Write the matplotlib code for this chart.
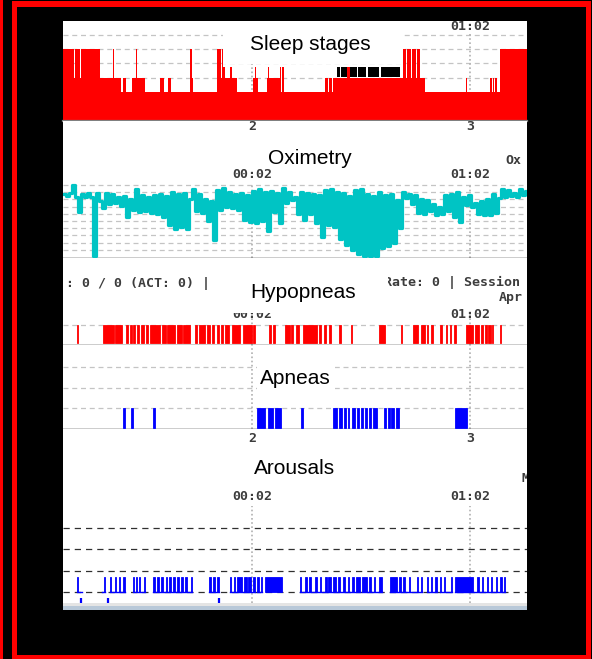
import matplotlib
matplotlib.use("Agg")
import matplotlib.pyplot as plt
from matplotlib import transforms
from matplotlib.patches import Rectangle

# all times in minutes after midnight (00:02 -> 2, 01:02 -> 62)
stage_times = [-50.0, -47.0, -46.7, -45.3, -45.06, -39.8, -36.25, -35.98, -35.7, -34.1,
               -33.6, -32.6, -31.0, -29.9, -29.65, -27.45, -23.3, -22.2, -21.1, -20.3,
               -15.0, -14.5, -14.2, -7.6, -7.2, -6.95, -6.5, -6.25, -6.0, -5.4,
               -4.05, -3.6, -2.1, 2.3, 2.8, 3.2, 3.65, 6.1, 6.4, 6.7,
               9.7, 10.0, 10.4, 10.8, 22.1, 22.9, 23.2, 24.0, 24.3, 28.15,
               28.95, 43.6, 44.4, 44.65, 45.75, 46.0, 47.1, 47.4, 48.2, 49.6,
               60.9, 61.3, 67.5, 68.05, 68.3, 68.6, 68.9, 69.4, 70.25, 77.7]
stage_levels = [3, 1, 3, 1, 3, 1, 3, 1, 1, 0,
                1, 0, 1, 3, 1, 0, 1, 0, 1, 0,
                3, 1, 0, 3, 1, 3, 1, 3, 1.75, 1,
                1.75, 1, 0, 1, 1.75, 1, 0, 1, 1.75, 1,
                1.75, 0, 1.75, 0, 1, 0, 1, 0, 1, 1.75,
                1, 3, 1, 3, 1, 3, 1, 3, 1, 0,
                1, 0, 1, 0, 1, 0, 1, 0, 3, 3]
rem_spans = [(25.4, 26.1), (26.5, 28.15), (28.95, 30.8), (31.2, 33.5), (33.9, 37.1), (37.5, 42.7)]

ox_start = -49.7
ox_step = 0.826
spo2 = [95.8, 95.5, 95.9, 97.0, 95.4, 93.3, 95.7, 95.4, 95.9, 95.3,
        87.1, 95.9, 94.8, 93.8, 95.9, 94.3, 95.8, 94.5, 95.3, 94.1,
        95.5, 92.6, 95.1, 93.5, 96.5, 93.2, 95.6, 93.4, 95.3, 93.1,
        95.6, 93.0, 95.8, 92.6, 95.5, 91.4, 96.0, 90.9, 95.7, 91.2,
        95.9, 90.9, 95.0, 96.5, 93.4, 95.8, 93.1, 95.0, 92.0, 94.8,
        89.4, 96.3, 93.5, 96.6, 94.0, 96.0, 93.8, 95.8, 93.5, 95.9,
        92.2, 95.6, 91.8, 96.2, 91.7, 96.4, 92.0, 96.1, 90.6, 96.2,
        93.2, 95.9, 91.7, 96.6, 94.5, 96.0, 94.9, 95.3, 93.0,
        96.0, 92.2, 95.9, 93.0, 95.8, 91.7, 95.6, 89.8, 96.3, 91.5,
        96.5, 91.2, 96.1, 89.5, 95.9, 88.7, 95.5, 88.0, 96.3, 87.4,
        96.5, 87.1, 95.8, 87.1, 95.5, 87.2, 96.0, 88.2, 95.6, 88.5,
        95.8, 89.0, 94.9, 91.0, 96.1, 95.2, 95.8, 94.4, 95.6, 93.1,
        95.0, 93.0, 94.9, 93.4, 94.3, 92.8, 94.0, 93.0, 95.6, 93.4,
        95.8, 92.5, 96.0, 91.8, 95.4, 94.2, 95.6, 94.0, 94.5, 93.0,
        94.8, 92.8, 95.1, 92.9, 95.7, 93.1, 95.2, 96.5, 95.4, 96.3,
        95.5, 95.9, 95.3, 96.5, 95.6, 96.2]

hypopneas = [(-46.2, -45.8), (-39.1, -36.1), (-35.7, -33.7), (-32.6, -32.2), (-31.5, -31.1),
             (-30.6, -30.1), (-29.5, -29.0), (-28.4, -27.7), (-27.1, -26.6), (-26.0, -23.3),
             (-22.8, -21.6), (-21.3, -19.2), (-18.7, -17.3), (-16.9, -15.0), (-13.7, -13.0),
             (-12.5, -10.8), (-10.4, -9.5), (-9.0, -8.4), (-7.7, -7.0), (-6.4, -5.9),
             (-5.3, -4.2), (-3.6, -1.3), (-0.5, 1.9), (2.4, 2.8), (6.8, 7.2),
             (7.7, 8.4), (11.2, 12.5), (12.8, 13.4), (14.0, 15.0), (16.1, 19.8),
             (20.5, 21.0), (21.8, 22.3), (23.3, 23.7), (26.0, 26.4), (29.2, 29.6),
             (37.1, 38.6), (43.0, 43.4), (46.4, 47.8), (48.4, 49.5), (50.1, 50.5),
             (51.2, 51.9), (53.7, 54.3), (55.4, 55.8), (56.5, 56.9), (57.6, 58.1),
             (60.9, 62.9), (63.5, 64.6), (65.0, 65.7), (66.1, 66.8), (67.1, 67.7),
             (68.0, 68.4), (70.2, 70.5)]

apneas = [(-33.4, -32.9), (-31.2, -30.7), (-25.1, -24.7), (3.3, 5.6), (6.5, 7.9),
          (8.4, 9.9), (15.4, 16.0), (24.2, 25.5), (25.9, 26.7), (27.2, 27.9),
          (28.3, 28.8), (29.5, 30.4), (30.8, 31.6), (31.9, 32.5), (33.1, 33.8),
          (34.3, 34.9), (35.4, 36.5), (38.3, 38.9), (39.4, 40.0), (40.4, 41.1),
          (41.6, 42.6), (58.0, 61.1)]

arousals = [(-46.2, -45.9), (-38.7, -38.4), (-37.0, -36.8), (-35.7, -35.4), (-34.5, -34.2),
            (-33.4, -32.9), (-30.8, -30.5), (-29.9, -29.6), (-29.2, -28.8), (-27.7, -27.4),
            (-25.1, -24.8), (-24.2, -23.7), (-22.9, -22.4), (-21.6, -21.3), (-20.9, -20.2),
            (-19.6, -19.1), (-18.5, -18.2), (-17.4, -17.1), (-16.3, -16.0), (-14.9, -14.5),
            (-9.7, -9.4), (-8.6, -8.3), (-7.5, -7.2), (-4.0, -3.8), (-2.9, -2.6),
            (-2.2, -0.8), (-0.2, 0.6), (1.0, 1.7), (2.2, 2.9), (3.5, 3.9),
            (4.4, 4.7), (5.6, 10.2), (15.2, 15.6), (16.7, 17.1), (17.8, 18.2),
            (19.3, 19.8), (20.7, 21.1), (22.0, 22.6), (23.0, 23.7), (24.4, 25.0),
            (25.7, 26.2), (27.0, 27.7), (28.3, 28.8), (29.5, 30.1), (30.6, 31.7),
            (32.2, 33.6), (34.3, 34.7), (35.6, 36.0), (37.1, 37.7), (40.0, 41.8),
            (42.6, 42.9), (43.7, 44.0), (45.1, 45.5), (47.3, 47.7), (48.4, 48.7),
            (50.1, 50.4), (51.2, 51.5), (52.5, 52.8), (53.7, 54.1), (54.8, 55.2),
            (56.7, 57.0), (57.9, 62.9), (64.0, 64.6), (65.3, 65.7), (66.6, 66.9),
            (67.9, 68.2), (69.1, 69.5), (70.4, 70.8), (71.3, 71.6)]
arousal_runs = [(-46.2, -44.7), (-39.2, -38.4), (-37.0, -32.9), (-30.8, -27.4), (-25.1, -14.5),
                (-9.7, -7.2), (-4.0, 2.9), (3.5, 4.7), (15.2, 22.6), (23.0, 31.7),
                (32.2, 37.7), (40.0, 48.7), (50.1, 52.8), (53.7, 57.0), (57.9, 71.6)]
arousal_marks = [-45.1, -37.6, -7.1]

tick_mins = [2, 62]
hour_labels = ["2", "3"]
clock_labels = ["00:02", "01:02"]

W, H = 592, 659
fig = plt.figure(figsize=(W / 100, H / 100), dpi=100, facecolor="black")
# pixel coordinates measured from the top-left corner
PX = transforms.Affine2D().scale(1 / W, -1 / H).translate(0, 1) + fig.transFigure

RED = "#ff0000"
BLUE = "#0000ff"
TEAL = "#00c4c4"
TITLE = dict(family="Liberation Sans", fontsize=15, color="black", ha="center", va="center", zorder=6)
SMALL = dict(family="DejaVu Sans Mono", fontsize=9.5, fontweight="bold", color="#3c3c3c",
             va="center", zorder=4)


def box(x0, y0, x1, y1, color, z=3):
    fig.add_artist(Rectangle((x0, y0), x1 - x0, y1 - y0, transform=PX,
                             facecolor=color, edgecolor="none", zorder=z))


def panel(top, bottom, ylim):
    ax = fig.add_axes([63 / W, 1 - bottom / H, 464 / W, (bottom - top) / H])
    ax.set_xlim(-50, 77.7)
    ax.set_ylim(*ylim)
    ax.set_xticks([])
    ax.set_yticks([])
    for s in ax.spines.values():
        s.set_visible(False)
    return ax


def hgrid(ax, levels, color="#c4c4c4", dash=(4, 3)):
    for lv in levels:
        ax.axhline(lv, color=color, lw=0.9, dashes=dash, zorder=1)


def vgrid(ax, y0, y1):
    for t in tick_mins:
        ax.axvline(t, ymin=y0, ymax=y1, color="#b0b0b0", lw=1.2, ls=(0, (1, 1.5)), zorder=1)


def tick_text(ax, labels, y, **kw):
    tr = transforms.blended_transform_factory(ax.transData, PX)
    for t, lab in zip(tick_mins, labels):
        ax.text(t, y, lab, transform=tr, ha="center", clip_on=True, **{**SMALL, **kw})


def cover(ax, x0, y0, x1, y1):
    ax.add_patch(Rectangle((x0, y0), x1 - x0, y1 - y0, transform=PX, facecolor="white",
                           edgecolor="none", zorder=5, clip_on=False))


def events(ax, spans, color, top):
    for a, b in spans:
        ax.bar(a, top, width=b - a, bottom=0, align="edge", color=color,
               edgecolor=color, lw=0.6, zorder=3)


# frame
box(0, 0, 3, H, RED)
box(12, 1, 591, 7, RED)
box(12, 655, 591, H, RED)
box(12, 1, 17, H, RED)
box(586, 1, 591, H, RED)
box(63, 603, 527, 606, "#e4e4e4")
box(63, 606, 527, 610, "#b8c8d8")

# sleep stages
ax = panel(21, 121, (-2.03, 4.97))
hgrid(ax, [1, 2, 3, 4])
vgrid(ax, 0.02, 0.88)
ax.fill_between(stage_times, -2.03, stage_levels, step="post", color=RED, lw=0, zorder=2)
for a, b in rem_spans:
    ax.fill_between([a, b], 1.05, 1.75, color="black", lw=0, zorder=2)
ax.spines["bottom"].set_visible(True)
ax.spines["bottom"].set_color("#808080")
ax.spines["bottom"].set_linewidth(1.6)
cover(ax, 223, 27, 402, 64)
ax.text(310, 45, "Sleep stages", transform=PX, **TITLE)
tick_text(ax, ["", "01:02"], 26)

# oximetry
ax = panel(121, 258, (86.86, 105.9))
hgrid(ax, range(88, 98))
vgrid(ax, 0.0, 0.53)
ox_times = [ox_start + i * ox_step for i in range(len(spo2))]
ax.plot(ox_times, spo2, drawstyle="steps-mid", color=TEAL, lw=2.3, zorder=3)
ax.spines["bottom"].set_visible(True)
ax.spines["bottom"].set_linewidth(1.0)
tick_text(ax, hour_labels, 127)
tick_text(ax, clock_labels, 175)
ax.text(310, 159, "Oximetry", transform=PX, **TITLE)
ax.text(505, 161, "Ox", transform=PX, ha="left", clip_on=True, **SMALL)

# hypopneas
ax = panel(258, 345, (-0.11, 4.72))
hgrid(ax, [1])
vgrid(ax, 0.0, 0.37)
events(ax, hypopneas, RED, 1)
ax.spines["bottom"].set_visible(True)
ax.spines["bottom"].set_linewidth(1.0)
ax.text(66, 283, ": 0 / 0 (ACT: 0) | |", transform=PX, ha="left", clip_on=True, **SMALL)
ax.text(384, 282, "Rate: 0 | Session", transform=PX, ha="left", clip_on=True, **SMALL)
ax.text(499, 297, "Apr", transform=PX, ha="left", clip_on=True, **SMALL)
tick_text(ax, clock_labels, 314)
cover(ax, 217, 266, 388, 313)
ax.text(303, 292, "Hypopneas", transform=PX, **TITLE)

# apneas
ax = panel(345, 429, (-0.05, 4.11))
hgrid(ax, [1, 2, 3])
vgrid(ax, 0.0, 1.0)
events(ax, apneas, BLUE, 1)
ax.spines["bottom"].set_visible(True)
ax.spines["bottom"].set_linewidth(1.0)
cover(ax, 257, 362, 335, 393)
ax.text(295, 379, "Apneas", transform=PX, **TITLE)

# arousals
ax = panel(429, 603, (-0.52, 7.65))
hgrid(ax, [0, 1, 2, 3], color="#303030", dash=(5, 4))
vgrid(ax, 0.0, 0.56)
for a, b in arousal_runs:
    ax.plot([a, b], [0, 0], color=BLUE, lw=1.0, zorder=3)
events(ax, arousals, BLUE, 0.7)
ax.vlines(arousal_marks, -0.5, -0.28, color=BLUE, lw=1.6, zorder=3)
tick_text(ax, hour_labels, 438)
tick_text(ax, clock_labels, 496)
ax.text(295, 469, "Arousals", transform=PX, **TITLE)
ax.text(522, 479, "M", transform=PX, ha="left", clip_on=True, **SMALL)

fig.savefig("out.png", dpi=100, facecolor="black")
